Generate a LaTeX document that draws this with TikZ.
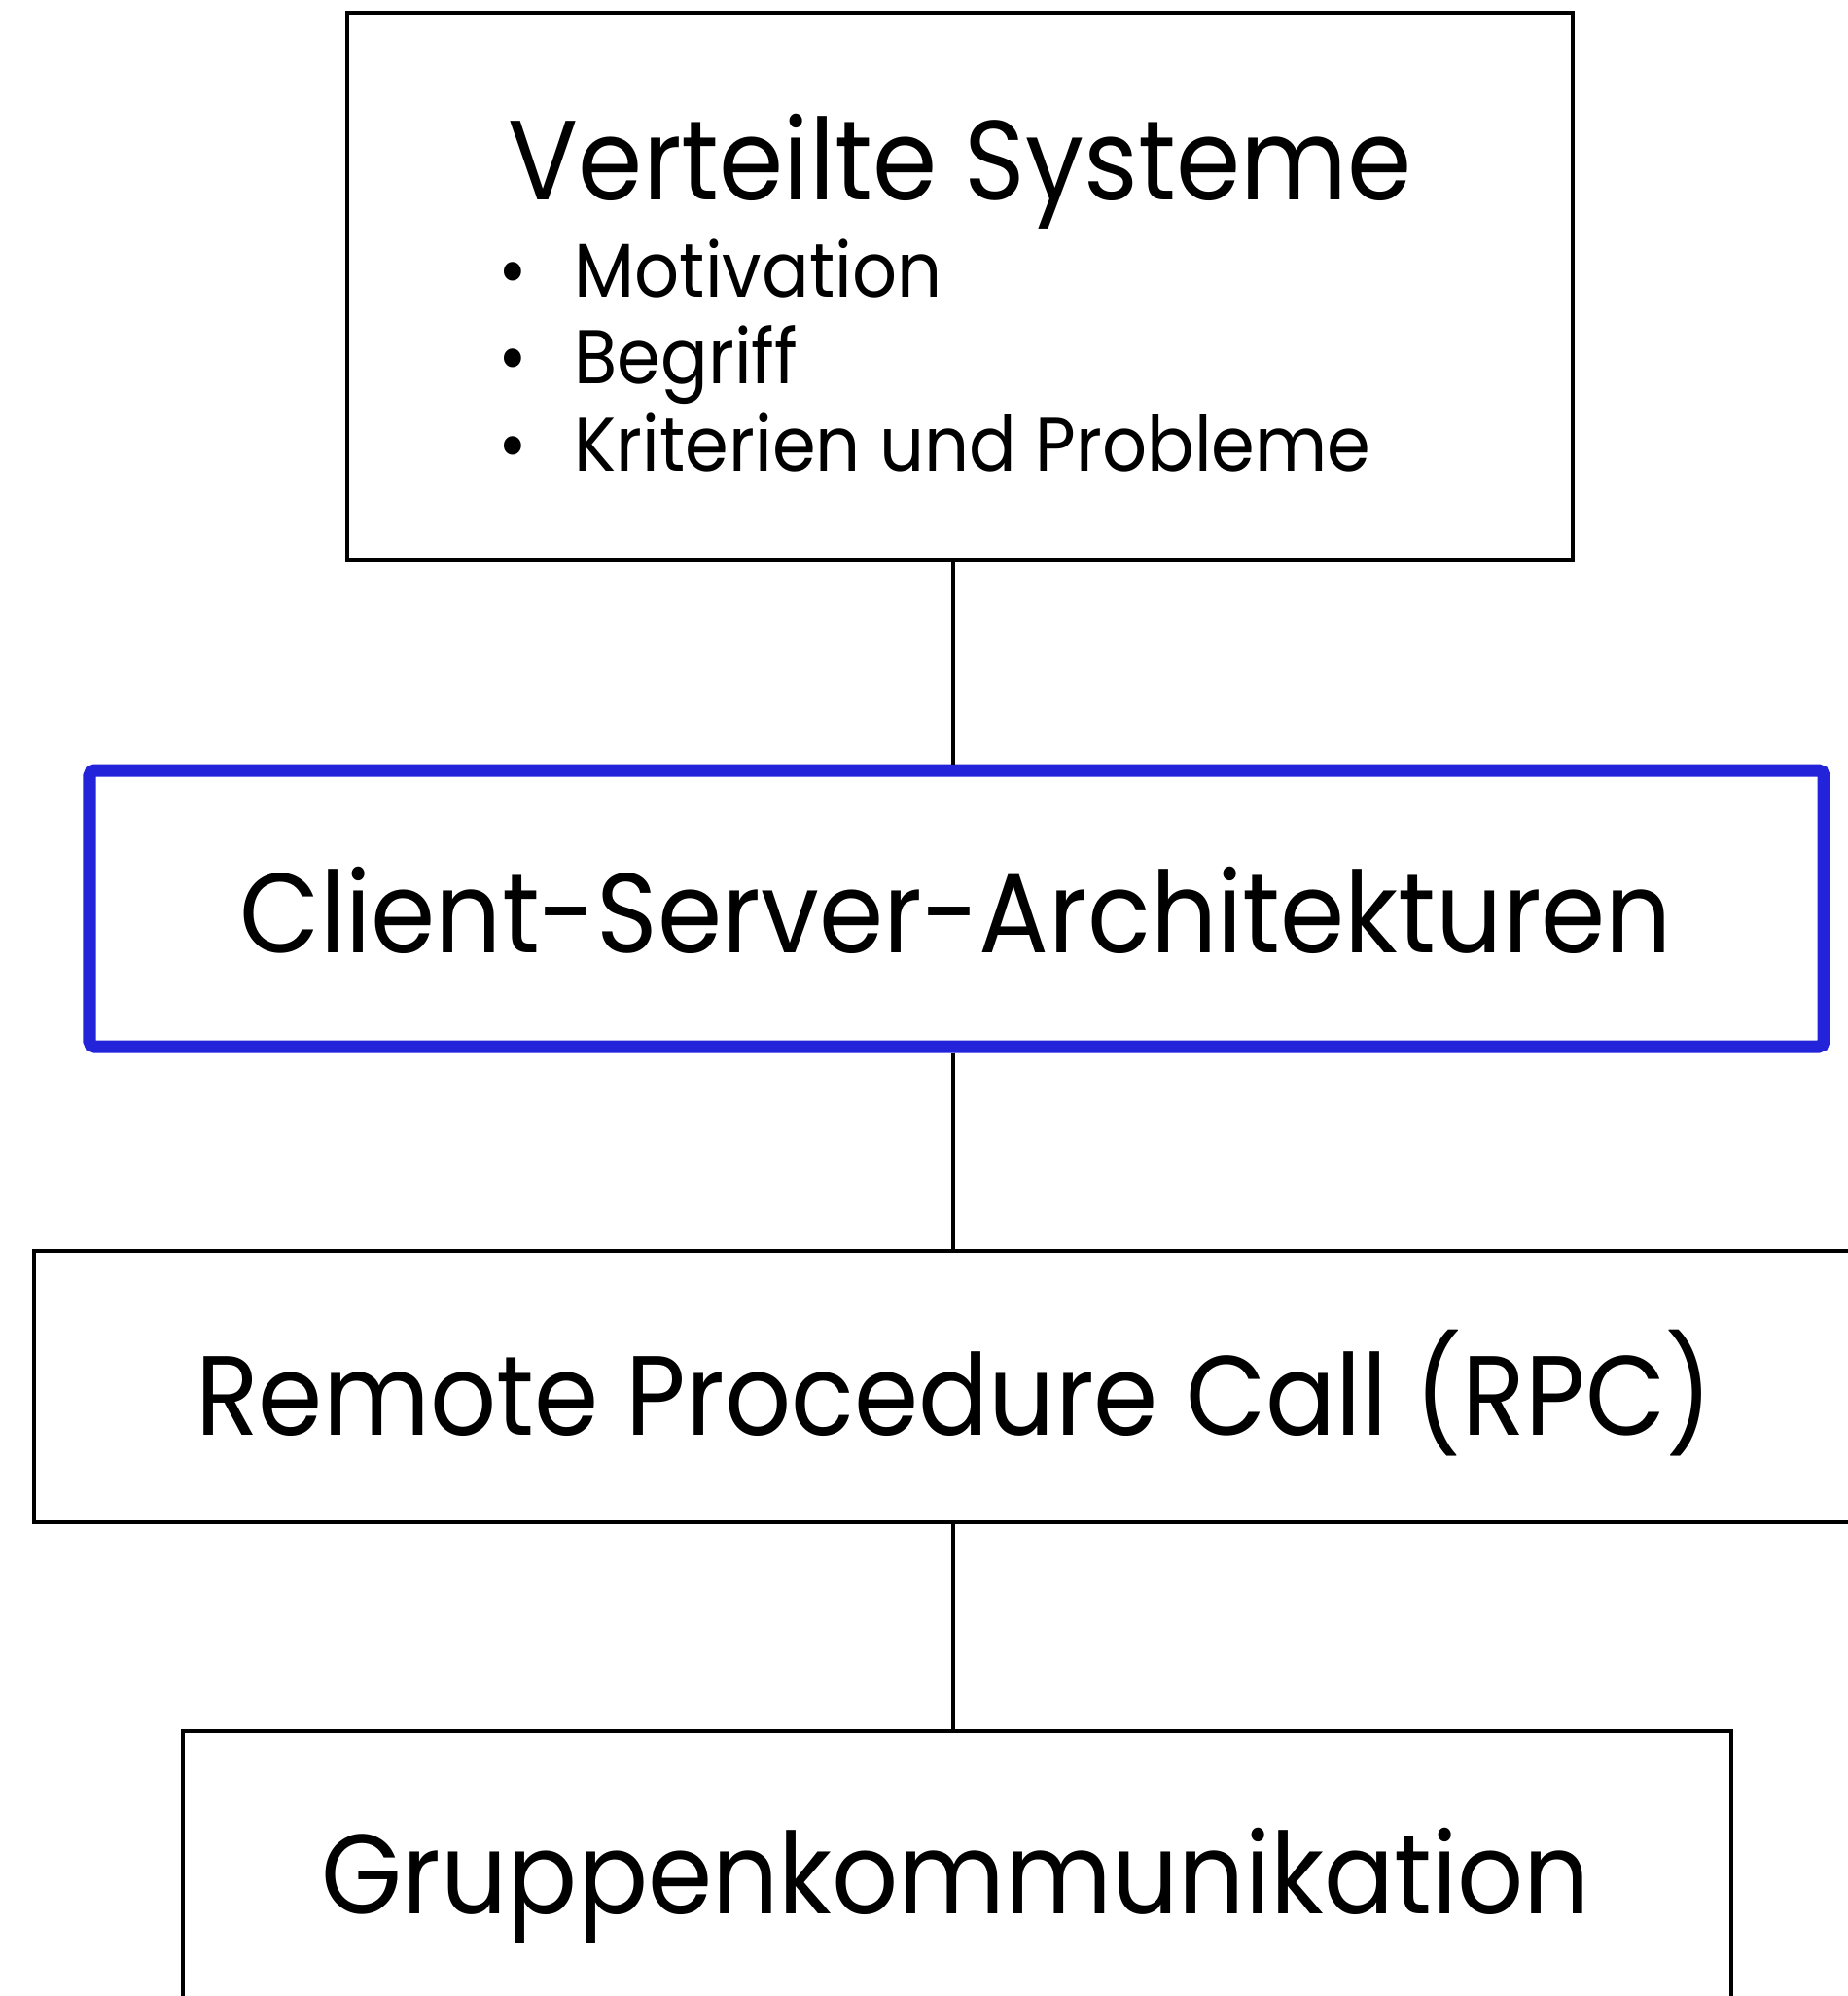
\documentclass[tikz,border=0pt]{standalone}
\usepackage{fontspec}
\setmainfont[FakeStretch=0.92]{Poppins}
\definecolor{csablue}{RGB}{35,35,218}

\begin{document}
\begin{tikzpicture}[x=1cm,y=1cm,
  topicbox/.style={draw=black,line width=1.3pt,inner sep=0pt},
  currentbox/.style={draw=csablue,line width=3.7pt,inner sep=0pt,rounded corners=1.5pt},
  heading/.style={inner sep=0pt,anchor=base,font=\fontsize{33}{39}\selectfont},
  bullettext/.style={inner sep=0pt,anchor=base west,font=\fontsize{22.3}{27}\selectfont},
  link/.style={line width=1.3pt}]
\path[use as bounding box] (0,0) rectangle (19,-20.52);
\coordinate (axis) at (9.80,0);
\node[topicbox,minimum width=12.6cm,minimum height=5.63cm] (vs) at (9.87,-2.945) {};
\node[currentbox,minimum width=17.83cm,minimum height=2.84cm] (csa) at (9.835,-9.34) {};
\node[topicbox,minimum width=18.9cm,minimum height=2.79cm] (rpc) at (9.80,-14.255) {};
\node[topicbox,minimum width=15.92cm,minimum height=2.84cm] (gk) at (9.84,-19.22) {};
\node[heading] (vstitle) at (9.87,-2.05) {Verteilte Systeme};
\node[bullettext,anchor=base] (dot1) at (5.27,-3.05) {•};
\node[bullettext] (mot) at (5.90,-3.05) {Motivation};
\node[bullettext,anchor=base] (dot2) at (5.27,-3.94) {•};
\node[bullettext] (beg) at (5.90,-3.94) {Begriff};
\node[bullettext,anchor=base] (dot3) at (5.27,-4.84) {•};
\node[bullettext] (krit) at (5.90,-4.84) {Kriterien und Probleme};
\node[heading] (csatext) at (9.83,-9.79) {Client-Server-Architekturen};
\node[heading] (rpctext) at (9.81,-14.75) {Remote Procedure Call (RPC)};
\node[heading] (gktext) at (9.83,-19.67) {Gruppenkommunikation};
\draw[link] (vs.south -| axis) -- (csa.north -| axis);
\draw[link] (csa.south -| axis) -- (rpc.north -| axis);
\draw[link] (rpc.south -| axis) -- (gk.north -| axis);
\end{tikzpicture}
\end{document}
